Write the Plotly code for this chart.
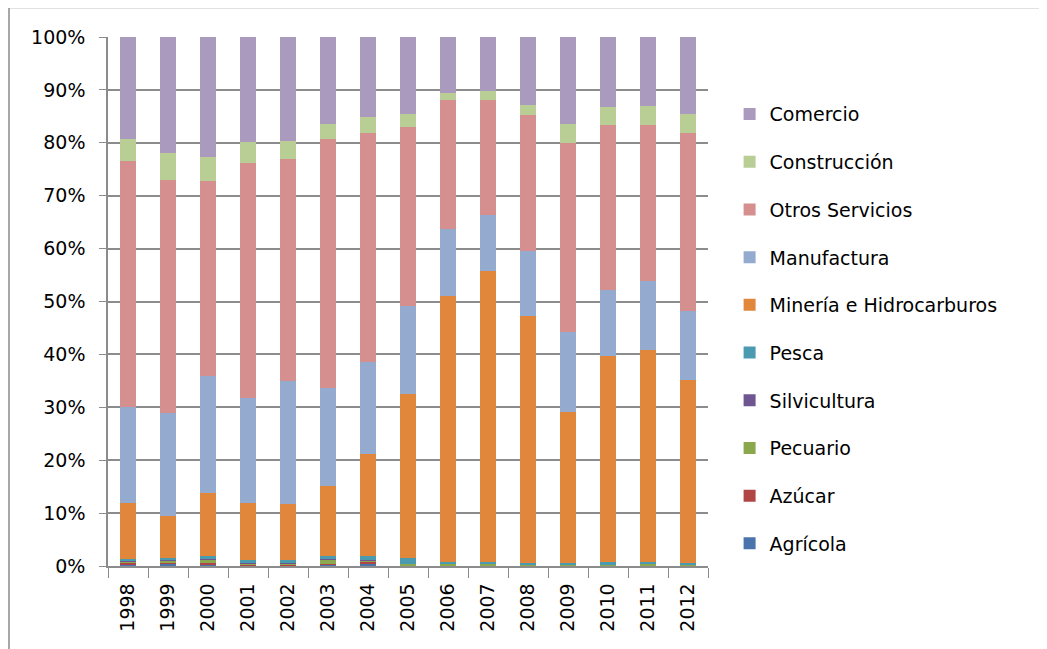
import plotly.graph_objects as go

years = ["1998", "1999", "2000", "2001", "2002", "2003", "2004", "2005",
         "2006", "2007", "2008", "2009", "2010", "2011", "2012"]

agricola     = [0.3, 0.4, 0.2, 0.1, 0.1, 0.2, 0.4, 0.05, 0.05, 0.05, 0.05, 0.05, 0.05, 0.05, 0.05]
azucar       = [0.2, 0.1, 0.3, 0.1, 0.1, 0.1, 0.4, 0.05, 0.05, 0.05, 0.05, 0.05, 0.05, 0.05, 0.05]
pecuario     = [0.4, 0.6, 0.8, 0.3, 0.3, 0.9, 0.2, 0.3, 0.2, 0.25, 0.1, 0.1, 0.1, 0.2, 0.1]
silvicultura = [0.05, 0.05, 0.05, 0.05, 0.1, 0.1, 0.1, 0.05, 0.0, 0.0, 0.0, 0.0, 0.0, 0.0, 0.0]
pesca        = [0.4, 0.35, 0.5, 0.6, 0.6, 0.6, 0.7, 1.1, 0.5, 0.5, 0.3, 0.3, 0.6, 0.5, 0.4]
mineria      = [10.65, 8.0, 11.95, 10.85, 10.6, 13.3, 19.4, 30.95, 50.2, 54.85, 46.8, 28.7, 38.9, 40.0, 34.6]
manufactura  = [18.0, 19.5, 22.2, 19.8, 23.2, 18.5, 17.3, 16.7, 12.8, 10.6, 12.2, 15.1, 12.5, 13.0, 13.0]
otros        = [46.5, 44.0, 36.8, 44.4, 42.0, 47.0, 43.3, 33.8, 24.2, 21.7, 25.8, 35.7, 31.1, 29.5, 33.6]
construccion = [4.3, 5.0, 4.5, 4.0, 3.3, 2.8, 3.0, 2.5, 1.5, 1.7, 1.9, 3.5, 3.5, 3.7, 3.7]
comercio     = [19.2, 22.0, 22.7, 19.8, 19.7, 16.5, 15.2, 14.5, 10.5, 10.3, 12.8, 16.5, 13.2, 13.0, 14.5]

series = [
    ("Agrícola", agricola, "#4A74AB"),
    ("Azúcar", azucar, "#B04643"),
    ("Pecuario", pecuario, "#8BA84F"),
    ("Silvicultura", silvicultura, "#6F5592"),
    ("Pesca", pesca, "#4A9BB0"),
    ("Minería e Hidrocarburos", mineria, "#E0873C"),
    ("Manufactura", manufactura, "#94AACF"),
    ("Otros Servicios", otros, "#D48F8E"),
    ("Construcción", construccion, "#B8CE95"),
    ("Comercio", comercio, "#AA9BBE"),
]

fig = go.Figure()
n = len(series)
for i, (name, vals, col) in enumerate(series):
    fig.add_trace(go.Bar(x=years, y=vals, name=name, marker_color=col,
                         marker_line_width=0, legendgroup=name, legendrank=n - i))

fig.update_layout(
    barmode="stack",
    barnorm="percent",
    bargap=0.6,
    width=1039, height=641,
    margin=dict(l=100, r=339, t=29, b=82.5),
    paper_bgcolor="white", plot_bgcolor="white",
    font=dict(family="DejaVu Sans", size=19, color="#000000"),
    legend=dict(traceorder="grouped", x=1.036, xanchor="left", y=0.89, yanchor="top",
                tracegroupgap=20, font=dict(size=19), itemwidth=30),
    showlegend=True,
)
fig.update_yaxes(range=[0, 100], dtick=10, ticksuffix="%", showgrid=True,
                 gridcolor="#8C8C8C", gridwidth=1.5, showline=True, linecolor="#8C8C8C",
                 linewidth=1.5, ticks="outside", ticklen=7, tickcolor="#8C8C8C",
                 zeroline=False, tickfont=dict(size=19), ticklabelstandoff=10)
fig.update_xaxes(tickangle=-90, showline=True, linecolor="#8C8C8C", linewidth=1.5,
                 ticks="outside", ticklen=10, tickcolor="#8C8C8C", tickson="boundaries",
                 tickfont=dict(size=19), showgrid=False, ticklabelstandoff=8)

fig.add_shape(type="rect", xref="paper", yref="paper", x0=-0.165, x1=1.553, y0=-0.17, y1=1.056,
              line=dict(color="#8C8C8C", width=1.5), fillcolor="rgba(0,0,0,0)", layer="below")

fig.write_html("out.html")
